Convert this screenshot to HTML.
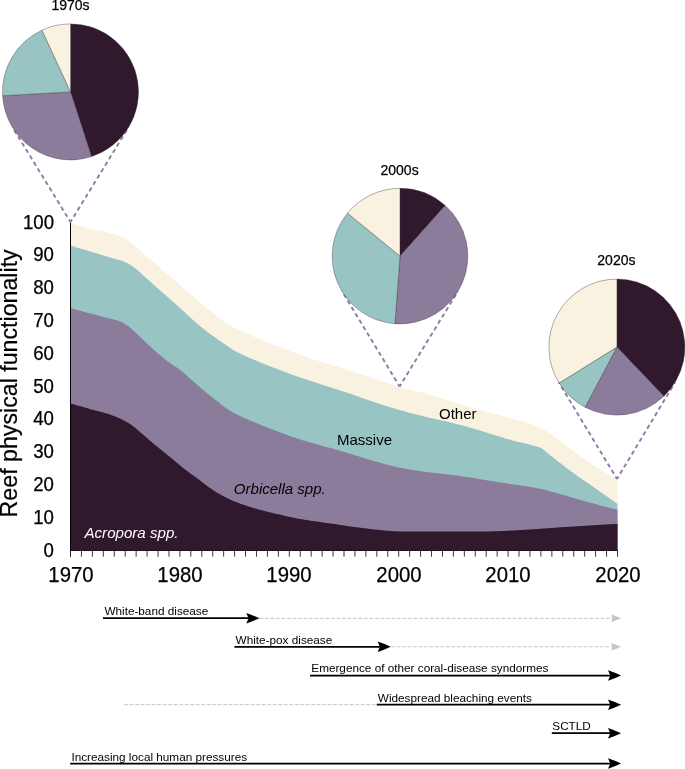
<!DOCTYPE html>
<html><head><meta charset="utf-8"><title>Reef physical functionality</title>
<style>
html,body{margin:0;padding:0;background:#fff;}
body{width:685px;height:769px;position:relative;overflow:hidden;font-family:"Liberation Sans",sans-serif;color:#000;}
.t{position:absolute;white-space:nowrap;}
.ax{-webkit-text-stroke:0.25px #000;}
.t.c{width:200px;text-align:center;}
.t.r{width:100px;text-align:right;}
.yt{-webkit-text-stroke:0.2px #000;position:absolute;left:0;top:0;white-space:nowrap;font-size:23.2px;line-height:26px;transform-origin:0 0;transform:translate(-3.9px,517.4px) rotate(-90deg);}
</style></head><body>
<svg width="685" height="769" viewBox="0 0 685 769" style="position:absolute;left:0;top:0">
<path d="M70.5 550.6 L70.5 222.80 L72.5 223.50 L74.5 224.19 L76.5 224.86 L78.5 225.51 L80.5 226.14 L82.5 226.74 L84.5 227.33 L86.5 227.88 L88.5 228.42 L90.5 228.92 L92.5 229.39 L94.5 229.82 L96.5 230.22 L98.5 230.61 L100.5 230.99 L102.5 231.37 L104.5 231.77 L106.5 232.19 L108.5 232.64 L110.5 233.13 L112.5 233.64 L114.5 234.18 L116.5 234.77 L118.5 235.44 L120.5 236.20 L122.5 237.17 L124.5 238.30 L126.5 239.51 L128.5 240.84 L130.5 242.28 L132.5 243.82 L134.5 245.40 L136.5 247.10 L138.5 248.89 L140.5 250.73 L142.5 252.56 L144.5 254.34 L146.5 256.09 L148.5 257.83 L150.5 259.57 L152.5 261.30 L154.5 263.03 L156.5 264.76 L158.5 266.49 L160.5 268.22 L162.5 269.94 L164.5 271.67 L166.5 273.39 L168.5 275.11 L170.5 276.83 L172.5 278.55 L174.5 280.26 L176.5 281.97 L178.5 283.68 L180.5 285.40 L182.5 287.11 L184.5 288.83 L186.5 290.55 L188.5 292.28 L190.5 294.02 L192.5 295.74 L194.5 297.46 L196.5 299.17 L198.5 300.88 L200.5 302.59 L202.5 304.29 L204.5 305.99 L206.5 307.68 L208.5 309.35 L210.5 310.99 L212.5 312.60 L214.5 314.20 L216.5 315.81 L218.5 317.43 L220.5 319.02 L222.5 320.56 L224.5 322.04 L226.5 323.43 L228.5 324.70 L230.5 325.84 L232.5 326.87 L234.5 327.82 L236.5 328.76 L238.5 329.71 L240.5 330.65 L242.5 331.58 L244.5 332.50 L246.5 333.41 L248.5 334.31 L250.5 335.19 L252.5 336.07 L254.5 336.93 L256.5 337.79 L258.5 338.63 L260.5 339.46 L262.5 340.28 L264.5 341.09 L266.5 341.89 L268.5 342.68 L270.5 343.46 L272.5 344.25 L274.5 345.03 L276.5 345.81 L278.5 346.58 L280.5 347.36 L282.5 348.14 L284.5 348.92 L286.5 349.69 L288.5 350.45 L290.5 351.21 L292.5 351.95 L294.5 352.69 L296.5 353.42 L298.5 354.14 L300.5 354.84 L302.5 355.54 L304.5 356.23 L306.5 356.91 L308.5 357.58 L310.5 358.25 L312.5 358.92 L314.5 359.58 L316.5 360.24 L318.5 360.89 L320.5 361.54 L322.5 362.18 L324.5 362.81 L326.5 363.45 L328.5 364.08 L330.5 364.70 L332.5 365.33 L334.5 365.96 L336.5 366.58 L338.5 367.20 L340.5 367.81 L342.5 368.43 L344.5 369.04 L346.5 369.65 L348.5 370.27 L350.5 370.89 L352.5 371.52 L354.5 372.16 L356.5 372.81 L358.5 373.46 L360.5 374.12 L362.5 374.78 L364.5 375.44 L366.5 376.11 L368.5 376.78 L370.5 377.44 L372.5 378.11 L374.5 378.76 L376.5 379.43 L378.5 380.11 L380.5 380.79 L382.5 381.48 L384.5 382.17 L386.5 382.85 L388.5 383.53 L390.5 384.19 L392.5 384.85 L394.5 385.48 L396.5 386.10 L398.5 386.69 L400.5 387.25 L402.5 387.78 L404.5 388.29 L406.5 388.79 L408.5 389.26 L410.5 389.73 L412.5 390.19 L414.5 390.65 L416.5 391.12 L418.5 391.60 L420.5 392.09 L422.5 392.60 L424.5 393.14 L426.5 393.69 L428.5 394.27 L430.5 394.86 L432.5 395.46 L434.5 396.07 L436.5 396.69 L438.5 397.31 L440.5 397.92 L442.5 398.54 L444.5 399.15 L446.5 399.77 L448.5 400.39 L450.5 401.01 L452.5 401.64 L454.5 402.27 L456.5 402.90 L458.5 403.53 L460.5 404.16 L462.5 404.78 L464.5 405.40 L466.5 406.01 L468.5 406.62 L470.5 407.21 L472.5 407.80 L474.5 408.38 L476.5 408.96 L478.5 409.53 L480.5 410.10 L482.5 410.66 L484.5 411.22 L486.5 411.77 L488.5 412.32 L490.5 412.86 L492.5 413.40 L494.5 413.93 L496.5 414.45 L498.5 414.96 L500.5 415.46 L502.5 415.97 L504.5 416.48 L506.5 417.00 L508.5 417.53 L510.5 418.06 L512.5 418.61 L514.5 419.14 L516.5 419.68 L518.5 420.21 L520.5 420.75 L522.5 421.31 L524.5 421.89 L526.5 422.50 L528.5 423.14 L530.5 423.82 L532.5 424.55 L534.5 425.33 L536.5 426.16 L538.5 427.04 L540.5 427.98 L542.5 428.98 L544.5 430.03 L546.5 431.16 L548.5 432.42 L550.5 433.78 L552.5 435.23 L554.5 436.72 L556.5 438.23 L558.5 439.75 L560.5 441.24 L562.5 442.70 L564.5 444.18 L566.5 445.68 L568.5 447.20 L570.5 448.72 L572.5 450.24 L574.5 451.75 L576.5 453.25 L578.5 454.71 L580.5 456.15 L582.5 457.55 L584.5 458.95 L586.5 460.33 L588.5 461.70 L590.5 463.06 L592.5 464.40 L594.5 465.72 L596.5 467.02 L598.5 468.30 L600.5 469.56 L602.5 470.80 L604.5 472.00 L606.5 473.19 L608.5 474.35 L610.5 475.49 L612.5 476.60 L614.5 477.70 L616.5 478.77 L617.5 479.30 L617.5 550.6 Z" fill="#faf2e1"/>
<path d="M70.5 550.6 L70.5 245.60 L72.5 246.19 L74.5 246.79 L76.5 247.38 L78.5 247.97 L80.5 248.57 L82.5 249.16 L84.5 249.76 L86.5 250.36 L88.5 250.95 L90.5 251.55 L92.5 252.15 L94.5 252.74 L96.5 253.34 L98.5 253.94 L100.5 254.54 L102.5 255.14 L104.5 255.74 L106.5 256.34 L108.5 256.95 L110.5 257.55 L112.5 258.12 L114.5 258.67 L116.5 259.21 L118.5 259.77 L120.5 260.37 L122.5 261.04 L124.5 261.80 L126.5 262.69 L128.5 263.77 L130.5 265.01 L132.5 266.35 L134.5 267.76 L136.5 269.32 L138.5 271.04 L140.5 272.84 L142.5 274.66 L144.5 276.44 L146.5 278.23 L148.5 280.04 L150.5 281.85 L152.5 283.66 L154.5 285.44 L156.5 287.21 L158.5 288.96 L160.5 290.70 L162.5 292.44 L164.5 294.17 L166.5 295.92 L168.5 297.67 L170.5 299.44 L172.5 301.23 L174.5 303.02 L176.5 304.81 L178.5 306.62 L180.5 308.43 L182.5 310.24 L184.5 312.06 L186.5 313.90 L188.5 315.78 L190.5 317.65 L192.5 319.51 L194.5 321.32 L196.5 323.07 L198.5 324.76 L200.5 326.40 L202.5 328.01 L204.5 329.59 L206.5 331.14 L208.5 332.66 L210.5 334.16 L212.5 335.63 L214.5 337.09 L216.5 338.51 L218.5 339.90 L220.5 341.27 L222.5 342.63 L224.5 343.97 L226.5 345.32 L228.5 346.66 L230.5 348.04 L232.5 349.43 L234.5 350.71 L236.5 351.82 L238.5 352.87 L240.5 353.86 L242.5 354.80 L244.5 355.71 L246.5 356.59 L248.5 357.44 L250.5 358.28 L252.5 359.12 L254.5 359.95 L256.5 360.79 L258.5 361.63 L260.5 362.47 L262.5 363.29 L264.5 364.10 L266.5 364.90 L268.5 365.70 L270.5 366.48 L272.5 367.26 L274.5 368.04 L276.5 368.81 L278.5 369.58 L280.5 370.34 L282.5 371.10 L284.5 371.85 L286.5 372.60 L288.5 373.34 L290.5 374.08 L292.5 374.80 L294.5 375.52 L296.5 376.23 L298.5 376.92 L300.5 377.60 L302.5 378.27 L304.5 378.94 L306.5 379.59 L308.5 380.24 L310.5 380.89 L312.5 381.54 L314.5 382.19 L316.5 382.84 L318.5 383.49 L320.5 384.14 L322.5 384.79 L324.5 385.43 L326.5 386.08 L328.5 386.72 L330.5 387.37 L332.5 388.01 L334.5 388.66 L336.5 389.31 L338.5 389.95 L340.5 390.59 L342.5 391.24 L344.5 391.88 L346.5 392.53 L348.5 393.18 L350.5 393.83 L352.5 394.50 L354.5 395.17 L356.5 395.86 L358.5 396.55 L360.5 397.26 L362.5 397.98 L364.5 398.69 L366.5 399.41 L368.5 400.12 L370.5 400.81 L372.5 401.50 L374.5 402.17 L376.5 402.82 L378.5 403.48 L380.5 404.13 L382.5 404.78 L384.5 405.42 L386.5 406.05 L388.5 406.68 L390.5 407.30 L392.5 407.91 L394.5 408.51 L396.5 409.10 L398.5 409.68 L400.5 410.26 L402.5 410.82 L404.5 411.37 L406.5 411.92 L408.5 412.45 L410.5 412.98 L412.5 413.51 L414.5 414.02 L416.5 414.53 L418.5 415.04 L420.5 415.54 L422.5 416.03 L424.5 416.52 L426.5 417.00 L428.5 417.47 L430.5 417.92 L432.5 418.37 L434.5 418.82 L436.5 419.27 L438.5 419.72 L440.5 420.18 L442.5 420.64 L444.5 421.12 L446.5 421.60 L448.5 422.09 L450.5 422.57 L452.5 423.06 L454.5 423.55 L456.5 424.05 L458.5 424.55 L460.5 425.06 L462.5 425.57 L464.5 426.09 L466.5 426.62 L468.5 427.17 L470.5 427.72 L472.5 428.28 L474.5 428.87 L476.5 429.47 L478.5 430.09 L480.5 430.71 L482.5 431.34 L484.5 431.98 L486.5 432.61 L488.5 433.23 L490.5 433.85 L492.5 434.46 L494.5 435.07 L496.5 435.69 L498.5 436.31 L500.5 436.92 L502.5 437.53 L504.5 438.14 L506.5 438.73 L508.5 439.30 L510.5 439.86 L512.5 440.40 L514.5 440.92 L516.5 441.41 L518.5 441.90 L520.5 442.37 L522.5 442.85 L524.5 443.33 L526.5 443.82 L528.5 444.33 L530.5 444.86 L532.5 445.39 L534.5 445.89 L536.5 446.41 L538.5 447.01 L540.5 447.78 L542.5 448.97 L544.5 450.62 L546.5 452.18 L548.5 453.78 L550.5 455.38 L552.5 456.98 L554.5 458.58 L556.5 460.17 L558.5 461.75 L560.5 463.31 L562.5 464.85 L564.5 466.38 L566.5 467.89 L568.5 469.40 L570.5 470.88 L572.5 472.35 L574.5 473.81 L576.5 475.23 L578.5 476.64 L580.5 478.03 L582.5 479.42 L584.5 480.80 L586.5 482.18 L588.5 483.57 L590.5 484.97 L592.5 486.36 L594.5 487.76 L596.5 489.15 L598.5 490.55 L600.5 491.95 L602.5 493.35 L604.5 494.75 L606.5 496.16 L608.5 497.56 L610.5 498.97 L612.5 500.37 L614.5 501.78 L616.5 503.19 L617.5 503.90 L617.5 550.6 Z" fill="#98c5c3"/>
<path d="M70.5 550.6 L70.5 308.00 L72.5 308.57 L74.5 309.13 L76.5 309.70 L78.5 310.26 L80.5 310.81 L82.5 311.36 L84.5 311.91 L86.5 312.46 L88.5 313.00 L90.5 313.53 L92.5 314.06 L94.5 314.58 L96.5 315.10 L98.5 315.61 L100.5 316.12 L102.5 316.63 L104.5 317.15 L106.5 317.67 L108.5 318.20 L110.5 318.73 L112.5 319.24 L114.5 319.74 L116.5 320.27 L118.5 320.87 L120.5 321.60 L122.5 322.54 L124.5 323.67 L126.5 324.92 L128.5 326.37 L130.5 327.98 L132.5 329.69 L134.5 331.44 L136.5 333.28 L138.5 335.21 L140.5 337.18 L142.5 339.15 L144.5 341.08 L146.5 342.99 L148.5 344.91 L150.5 346.81 L152.5 348.66 L154.5 350.44 L156.5 352.17 L158.5 353.88 L160.5 355.56 L162.5 357.21 L164.5 358.82 L166.5 360.38 L168.5 361.90 L170.5 363.36 L172.5 364.70 L174.5 365.98 L176.5 367.26 L178.5 368.63 L180.5 370.15 L182.5 371.79 L184.5 373.51 L186.5 375.30 L188.5 377.13 L190.5 378.97 L192.5 380.81 L194.5 382.62 L196.5 384.37 L198.5 386.07 L200.5 387.76 L202.5 389.45 L204.5 391.11 L206.5 392.77 L208.5 394.40 L210.5 396.02 L212.5 397.61 L214.5 399.18 L216.5 400.76 L218.5 402.33 L220.5 403.88 L222.5 405.40 L224.5 406.88 L226.5 408.30 L228.5 409.67 L230.5 410.97 L232.5 412.20 L234.5 413.33 L236.5 414.37 L238.5 415.36 L240.5 416.30 L242.5 417.21 L244.5 418.09 L246.5 418.95 L248.5 419.79 L250.5 420.62 L252.5 421.44 L254.5 422.26 L256.5 423.09 L258.5 423.93 L260.5 424.76 L262.5 425.58 L264.5 426.40 L266.5 427.21 L268.5 428.01 L270.5 428.80 L272.5 429.58 L274.5 430.35 L276.5 431.11 L278.5 431.86 L280.5 432.61 L282.5 433.35 L284.5 434.08 L286.5 434.80 L288.5 435.51 L290.5 436.21 L292.5 436.90 L294.5 437.58 L296.5 438.24 L298.5 438.88 L300.5 439.52 L302.5 440.14 L304.5 440.75 L306.5 441.35 L308.5 441.95 L310.5 442.53 L312.5 443.11 L314.5 443.69 L316.5 444.26 L318.5 444.82 L320.5 445.37 L322.5 445.91 L324.5 446.44 L326.5 446.96 L328.5 447.49 L330.5 448.03 L332.5 448.58 L334.5 449.14 L336.5 449.72 L338.5 450.31 L340.5 450.90 L342.5 451.51 L344.5 452.11 L346.5 452.72 L348.5 453.33 L350.5 453.94 L352.5 454.55 L354.5 455.15 L356.5 455.76 L358.5 456.37 L360.5 456.98 L362.5 457.60 L364.5 458.21 L366.5 458.81 L368.5 459.41 L370.5 460.00 L372.5 460.58 L374.5 461.14 L376.5 461.70 L378.5 462.26 L380.5 462.82 L382.5 463.38 L384.5 463.93 L386.5 464.47 L388.5 465.00 L390.5 465.51 L392.5 466.01 L394.5 466.49 L396.5 466.95 L398.5 467.38 L400.5 467.78 L402.5 468.16 L404.5 468.54 L406.5 468.90 L408.5 469.24 L410.5 469.58 L412.5 469.90 L414.5 470.22 L416.5 470.52 L418.5 470.82 L420.5 471.11 L422.5 471.39 L424.5 471.67 L426.5 471.93 L428.5 472.18 L430.5 472.42 L432.5 472.66 L434.5 472.89 L436.5 473.11 L438.5 473.34 L440.5 473.57 L442.5 473.81 L444.5 474.06 L446.5 474.32 L448.5 474.57 L450.5 474.82 L452.5 475.08 L454.5 475.34 L456.5 475.60 L458.5 475.87 L460.5 476.14 L462.5 476.41 L464.5 476.69 L466.5 476.97 L468.5 477.26 L470.5 477.56 L472.5 477.86 L474.5 478.18 L476.5 478.52 L478.5 478.86 L480.5 479.21 L482.5 479.56 L484.5 479.91 L486.5 480.25 L488.5 480.59 L490.5 480.92 L492.5 481.24 L494.5 481.55 L496.5 481.85 L498.5 482.15 L500.5 482.45 L502.5 482.74 L504.5 483.04 L506.5 483.33 L508.5 483.63 L510.5 483.93 L512.5 484.22 L514.5 484.51 L516.5 484.80 L518.5 485.08 L520.5 485.37 L522.5 485.66 L524.5 485.95 L526.5 486.26 L528.5 486.58 L530.5 486.91 L532.5 487.27 L534.5 487.64 L536.5 488.04 L538.5 488.45 L540.5 488.89 L542.5 489.34 L544.5 489.82 L546.5 490.33 L548.5 490.85 L550.5 491.38 L552.5 491.93 L554.5 492.48 L556.5 493.04 L558.5 493.60 L560.5 494.16 L562.5 494.72 L564.5 495.29 L566.5 495.87 L568.5 496.45 L570.5 497.04 L572.5 497.63 L574.5 498.22 L576.5 498.81 L578.5 499.39 L580.5 499.96 L582.5 500.52 L584.5 501.08 L586.5 501.64 L588.5 502.19 L590.5 502.74 L592.5 503.29 L594.5 503.83 L596.5 504.37 L598.5 504.91 L600.5 505.44 L602.5 505.97 L604.5 506.49 L606.5 507.01 L608.5 507.53 L610.5 508.04 L612.5 508.55 L614.5 509.05 L616.5 509.55 L617.5 509.80 L617.5 550.6 Z" fill="#8b7c9b"/>
<path d="M70.5 550.6 L70.5 403.40 L72.5 403.98 L74.5 404.56 L76.5 405.14 L78.5 405.71 L80.5 406.29 L82.5 406.86 L84.5 407.43 L86.5 408.01 L88.5 408.57 L90.5 409.14 L92.5 409.69 L94.5 410.23 L96.5 410.75 L98.5 411.27 L100.5 411.80 L102.5 412.34 L104.5 412.90 L106.5 413.49 L108.5 414.11 L110.5 414.77 L112.5 415.48 L114.5 416.25 L116.5 417.06 L118.5 417.92 L120.5 418.83 L122.5 419.79 L124.5 420.80 L126.5 421.89 L128.5 423.06 L130.5 424.33 L132.5 425.77 L134.5 427.36 L136.5 429.04 L138.5 430.74 L140.5 432.41 L142.5 434.10 L144.5 435.81 L146.5 437.55 L148.5 439.29 L150.5 441.02 L152.5 442.74 L154.5 444.42 L156.5 446.07 L158.5 447.70 L160.5 449.32 L162.5 450.93 L164.5 452.54 L166.5 454.15 L168.5 455.77 L170.5 457.41 L172.5 459.08 L174.5 460.76 L176.5 462.45 L178.5 464.13 L180.5 465.79 L182.5 467.41 L184.5 468.99 L186.5 470.51 L188.5 472.00 L190.5 473.47 L192.5 474.92 L194.5 476.37 L196.5 477.83 L198.5 479.32 L200.5 480.84 L202.5 482.38 L204.5 483.92 L206.5 485.43 L208.5 486.91 L210.5 488.33 L212.5 489.68 L214.5 490.95 L216.5 492.18 L218.5 493.38 L220.5 494.53 L222.5 495.65 L224.5 496.73 L226.5 497.77 L228.5 498.76 L230.5 499.70 L232.5 500.58 L234.5 501.40 L236.5 502.18 L238.5 502.93 L240.5 503.66 L242.5 504.38 L244.5 505.07 L246.5 505.75 L248.5 506.41 L250.5 507.05 L252.5 507.67 L254.5 508.27 L256.5 508.86 L258.5 509.42 L260.5 509.97 L262.5 510.50 L264.5 511.01 L266.5 511.51 L268.5 511.99 L270.5 512.47 L272.5 512.95 L274.5 513.42 L276.5 513.88 L278.5 514.35 L280.5 514.82 L282.5 515.29 L284.5 515.75 L286.5 516.21 L288.5 516.66 L290.5 517.09 L292.5 517.51 L294.5 517.92 L296.5 518.31 L298.5 518.67 L300.5 519.03 L302.5 519.36 L304.5 519.69 L306.5 520.01 L308.5 520.32 L310.5 520.63 L312.5 520.93 L314.5 521.23 L316.5 521.53 L318.5 521.82 L320.5 522.11 L322.5 522.39 L324.5 522.67 L326.5 522.95 L328.5 523.22 L330.5 523.50 L332.5 523.78 L334.5 524.07 L336.5 524.37 L338.5 524.68 L340.5 524.98 L342.5 525.30 L344.5 525.61 L346.5 525.92 L348.5 526.22 L350.5 526.51 L352.5 526.80 L354.5 527.07 L356.5 527.33 L358.5 527.60 L360.5 527.85 L362.5 528.11 L364.5 528.36 L366.5 528.60 L368.5 528.83 L370.5 529.05 L372.5 529.25 L374.5 529.45 L376.5 529.65 L378.5 529.85 L380.5 530.06 L382.5 530.27 L384.5 530.47 L386.5 530.66 L388.5 530.84 L390.5 531.00 L392.5 531.14 L394.5 531.25 L396.5 531.34 L398.5 531.39 L400.5 531.41 L402.5 531.42 L404.5 531.43 L406.5 531.44 L408.5 531.45 L410.5 531.46 L412.5 531.47 L414.5 531.48 L416.5 531.49 L418.5 531.50 L420.5 531.51 L422.5 531.52 L424.5 531.52 L426.5 531.53 L428.5 531.54 L430.5 531.54 L432.5 531.55 L434.5 531.55 L436.5 531.56 L438.5 531.56 L440.5 531.57 L442.5 531.57 L444.5 531.58 L446.5 531.58 L448.5 531.58 L450.5 531.59 L452.5 531.59 L454.5 531.59 L456.5 531.59 L458.5 531.60 L460.5 531.60 L462.5 531.60 L464.5 531.60 L466.5 531.60 L468.5 531.60 L470.5 531.60 L472.5 531.60 L474.5 531.59 L476.5 531.58 L478.5 531.56 L480.5 531.55 L482.5 531.52 L484.5 531.50 L486.5 531.47 L488.5 531.44 L490.5 531.41 L492.5 531.37 L494.5 531.32 L496.5 531.26 L498.5 531.18 L500.5 531.10 L502.5 531.01 L504.5 530.92 L506.5 530.82 L508.5 530.72 L510.5 530.62 L512.5 530.53 L514.5 530.42 L516.5 530.31 L518.5 530.19 L520.5 530.07 L522.5 529.95 L524.5 529.82 L526.5 529.69 L528.5 529.56 L530.5 529.43 L532.5 529.30 L534.5 529.17 L536.5 529.03 L538.5 528.89 L540.5 528.75 L542.5 528.60 L544.5 528.46 L546.5 528.31 L548.5 528.17 L550.5 528.03 L552.5 527.90 L554.5 527.76 L556.5 527.62 L558.5 527.49 L560.5 527.35 L562.5 527.22 L564.5 527.08 L566.5 526.95 L568.5 526.81 L570.5 526.68 L572.5 526.55 L574.5 526.42 L576.5 526.29 L578.5 526.16 L580.5 526.03 L582.5 525.91 L584.5 525.78 L586.5 525.65 L588.5 525.52 L590.5 525.39 L592.5 525.27 L594.5 525.14 L596.5 525.02 L598.5 524.90 L600.5 524.78 L602.5 524.67 L604.5 524.56 L606.5 524.46 L608.5 524.37 L610.5 524.28 L612.5 524.19 L614.5 524.11 L616.5 524.04 L617.5 524.00 L617.5 550.6 Z" fill="#30192c"/>
<rect x="70" y="222.6" width="1" height="334.1" fill="#000"/>
<rect x="70" y="550.15" width="548" height="0.85" fill="#0a0a0a"/>
<path d="M70.50 550.6V556.7M81.44 550.6V556.7M92.38 550.6V556.7M103.32 550.6V556.7M114.26 550.6V556.7M125.20 550.6V556.7M136.14 550.6V556.7M147.08 550.6V556.7M158.02 550.6V556.7M168.96 550.6V556.7M179.90 550.6V556.7M190.84 550.6V556.7M201.78 550.6V556.7M212.72 550.6V556.7M223.66 550.6V556.7M234.60 550.6V556.7M245.54 550.6V556.7M256.48 550.6V556.7M267.42 550.6V556.7M278.36 550.6V556.7M289.30 550.6V556.7M300.24 550.6V556.7M311.18 550.6V556.7M322.12 550.6V556.7M333.06 550.6V556.7M344.00 550.6V556.7M354.94 550.6V556.7M365.88 550.6V556.7M376.82 550.6V556.7M387.76 550.6V556.7M398.70 550.6V556.7M409.64 550.6V556.7M420.58 550.6V556.7M431.52 550.6V556.7M442.46 550.6V556.7M453.40 550.6V556.7M464.34 550.6V556.7M475.28 550.6V556.7M486.22 550.6V556.7M497.16 550.6V556.7M508.10 550.6V556.7M519.04 550.6V556.7M529.98 550.6V556.7M540.92 550.6V556.7M551.86 550.6V556.7M562.80 550.6V556.7M573.74 550.6V556.7M584.68 550.6V556.7M595.62 550.6V556.7M606.56 550.6V556.7M617.50 550.6V556.7" stroke="#222" stroke-width="0.9" fill="none"/>
<path d="M70.50 222.00 L128.47 127.44" stroke="#8d7da6" stroke-width="1.9" stroke-dasharray="4.3 3.2" stroke-dashoffset="1.4" fill="none"/><path d="M70.50 222.00 L12.53 127.44" stroke="#8d7da6" stroke-width="1.9" stroke-dasharray="4.3 3.2" stroke-dashoffset="1.4" fill="none"/>
<path d="M399.60 386.50 L457.81 291.53" stroke="#8d7da6" stroke-width="1.9" stroke-dasharray="4.3 3.2" stroke-dashoffset="1.4" fill="none"/><path d="M399.60 386.50 L341.98 291.17" stroke="#8d7da6" stroke-width="1.9" stroke-dasharray="4.3 3.2" stroke-dashoffset="1.4" fill="none"/>
<path d="M617.00 479.00 L675.19 382.11" stroke="#8d7da6" stroke-width="1.9" stroke-dasharray="4.3 3.2" stroke-dashoffset="1.4" fill="none"/><path d="M617.00 479.00 L558.66 382.20" stroke="#8d7da6" stroke-width="1.9" stroke-dasharray="4.3 3.2" stroke-dashoffset="1.4" fill="none"/>
<path d="M70.50 91.90 L70.50 23.90 A68.00 68.00 0 0 1 91.51 156.57 Z" fill="#30192c" stroke="#3a3038" stroke-width="0.4" stroke-linejoin="round"/>
<path d="M70.50 91.90 L91.51 156.57 A68.00 68.00 0 0 1 2.61 95.70 Z" fill="#8b7c9b" stroke="#3a3038" stroke-width="0.4" stroke-linejoin="round"/>
<path d="M70.50 91.90 L2.61 95.70 A68.00 68.00 0 0 1 41.98 30.17 Z" fill="#98c5c3" stroke="#3a3038" stroke-width="0.4" stroke-linejoin="round"/>
<path d="M70.50 91.90 L41.98 30.17 A68.00 68.00 0 0 1 70.50 23.90 Z" fill="#faf2e1" stroke="#3a3038" stroke-width="0.4" stroke-linejoin="round"/>
<path d="M400.00 256.10 L400.00 188.30 A67.80 67.80 0 0 1 445.19 205.56 Z" fill="#30192c" stroke="#3a3038" stroke-width="0.4" stroke-linejoin="round"/>
<path d="M400.00 256.10 L445.19 205.56 A67.80 67.80 0 0 1 394.92 323.71 Z" fill="#8b7c9b" stroke="#3a3038" stroke-width="0.4" stroke-linejoin="round"/>
<path d="M400.00 256.10 L394.92 323.71 A67.80 67.80 0 0 1 347.53 213.16 Z" fill="#98c5c3" stroke="#3a3038" stroke-width="0.4" stroke-linejoin="round"/>
<path d="M400.00 256.10 L347.53 213.16 A67.80 67.80 0 0 1 400.00 188.30 Z" fill="#faf2e1" stroke="#3a3038" stroke-width="0.4" stroke-linejoin="round"/>
<path d="M616.90 347.10 L616.90 279.10 A68.00 68.00 0 0 1 663.88 396.26 Z" fill="#30192c" stroke="#3a3038" stroke-width="0.4" stroke-linejoin="round"/>
<path d="M616.90 347.10 L663.88 396.26 A68.00 68.00 0 0 1 585.13 407.22 Z" fill="#8b7c9b" stroke="#3a3038" stroke-width="0.4" stroke-linejoin="round"/>
<path d="M616.90 347.10 L585.13 407.22 A68.00 68.00 0 0 1 559.17 383.03 Z" fill="#98c5c3" stroke="#3a3038" stroke-width="0.4" stroke-linejoin="round"/>
<path d="M616.90 347.10 L559.17 383.03 A68.00 68.00 0 0 1 616.90 279.10 Z" fill="#faf2e1" stroke="#3a3038" stroke-width="0.4" stroke-linejoin="round"/>
<path d="M259.4 618.3 H614.2" stroke="#c6c6c6" stroke-width="1.00" fill="none" stroke-dasharray="4 1.5"/><path d="M621.10 618.30 Q615.91 615.88 611.30 614.40 L612.28 618.30 L611.30 622.20 Q615.91 620.72 621.10 618.30 Z" fill="#c6c6c6"/>
<path d="M390.8 646.8 H614.2" stroke="#c6c6c6" stroke-width="1.00" fill="none" stroke-dasharray="4 1.5"/><path d="M621.10 646.80 Q615.91 644.38 611.30 642.90 L612.28 646.80 L611.30 650.70 Q615.91 649.22 621.10 646.80 Z" fill="#c6c6c6"/>
<path d="M124.2 704.7H376.7" stroke="#c6c6c6" stroke-width="1" stroke-dasharray="4 1.5" fill="none"/>
<path d="M103.0 618.2 H250.2" stroke="#000" stroke-width="1.75" fill="none"/><path d="M259.40 618.20 Q252.46 614.95 246.30 612.95 L248.53 618.20 L246.30 623.45 Q252.46 621.46 259.40 618.20 Z" fill="#000"/>
<path d="M234.5 646.8 H381.6" stroke="#000" stroke-width="1.75" fill="none"/><path d="M390.80 646.80 Q383.86 643.54 377.70 641.55 L379.93 646.80 L377.70 652.05 Q383.86 650.05 390.80 646.80 Z" fill="#000"/>
<path d="M310.0 675.5 H611.9" stroke="#000" stroke-width="1.75" fill="none"/><path d="M621.10 675.50 Q614.16 672.25 608.00 670.25 L610.23 675.50 L608.00 680.75 Q614.16 678.75 621.10 675.50 Z" fill="#000"/>
<path d="M376.7 704.7 H611.9" stroke="#000" stroke-width="1.75" fill="none"/><path d="M621.10 704.70 Q614.16 701.45 608.00 699.45 L610.23 704.70 L608.00 709.95 Q614.16 707.96 621.10 704.70 Z" fill="#000"/>
<path d="M551.8 733.2 H611.9" stroke="#000" stroke-width="1.75" fill="none"/><path d="M621.10 733.20 Q614.16 729.95 608.00 727.95 L610.23 733.20 L608.00 738.45 Q614.16 736.46 621.10 733.20 Z" fill="#000"/>
<path d="M70.2 763.6 H611.9" stroke="#000" stroke-width="1.75" fill="none"/><path d="M621.10 763.60 Q614.16 760.35 608.00 758.35 L610.23 763.60 L608.00 768.85 Q614.16 766.86 621.10 763.60 Z" fill="#000"/>
</svg>
<div id="tx" style="position:absolute;left:0;top:0;width:685px;height:769px;will-change:transform;">
<div class="yt">Reef physical functionality</div>
<div class="t r ax" style="left:-45.6px;top:539.6px;font-size:19.30px;line-height:22.20px;transform:scaleX(0.967);transform-origin:100% 50%;">0</div>
<div class="t r ax" style="left:-45.6px;top:506.8px;font-size:19.30px;line-height:22.20px;transform:scaleX(0.967);transform-origin:100% 50%;">10</div>
<div class="t r ax" style="left:-45.6px;top:474.0px;font-size:19.30px;line-height:22.20px;transform:scaleX(0.967);transform-origin:100% 50%;">20</div>
<div class="t r ax" style="left:-45.6px;top:441.2px;font-size:19.30px;line-height:22.20px;transform:scaleX(0.967);transform-origin:100% 50%;">30</div>
<div class="t r ax" style="left:-45.6px;top:408.4px;font-size:19.30px;line-height:22.20px;transform:scaleX(0.967);transform-origin:100% 50%;">40</div>
<div class="t r ax" style="left:-45.6px;top:375.6px;font-size:19.30px;line-height:22.20px;transform:scaleX(0.967);transform-origin:100% 50%;">50</div>
<div class="t r ax" style="left:-45.6px;top:342.8px;font-size:19.30px;line-height:22.20px;transform:scaleX(0.967);transform-origin:100% 50%;">60</div>
<div class="t r ax" style="left:-45.6px;top:310.0px;font-size:19.30px;line-height:22.20px;transform:scaleX(0.967);transform-origin:100% 50%;">70</div>
<div class="t r ax" style="left:-45.6px;top:277.2px;font-size:19.30px;line-height:22.20px;transform:scaleX(0.967);transform-origin:100% 50%;">80</div>
<div class="t r ax" style="left:-45.6px;top:244.4px;font-size:19.30px;line-height:22.20px;transform:scaleX(0.967);transform-origin:100% 50%;">90</div>
<div class="t r ax" style="left:-45.6px;top:211.6px;font-size:19.30px;line-height:22.20px;transform:scaleX(0.967);transform-origin:100% 50%;">100</div>
<div class="t c ax" style="left:-29.4px;top:562.7px;font-size:21.30px;line-height:24.49px;transform:scaleX(0.955);transform-origin:50% 50%;">1970</div>
<div class="t c ax" style="left:80.0px;top:562.7px;font-size:21.30px;line-height:24.49px;transform:scaleX(0.955);transform-origin:50% 50%;">1980</div>
<div class="t c ax" style="left:189.4px;top:562.7px;font-size:21.30px;line-height:24.49px;transform:scaleX(0.955);transform-origin:50% 50%;">1990</div>
<div class="t c ax" style="left:298.8px;top:562.7px;font-size:21.30px;line-height:24.49px;transform:scaleX(0.955);transform-origin:50% 50%;">2000</div>
<div class="t c ax" style="left:408.2px;top:562.7px;font-size:21.30px;line-height:24.49px;transform:scaleX(0.955);transform-origin:50% 50%;">2010</div>
<div class="t c ax" style="left:517.6px;top:562.7px;font-size:21.30px;line-height:24.49px;transform:scaleX(0.955);transform-origin:50% 50%;">2020</div>
<div class="t c ax" style="left:-29.5px;top:-3.1px;font-size:14.00px;line-height:16.10px;">1970s</div>
<div class="t c ax" style="left:299.6px;top:161.9px;font-size:14.00px;line-height:16.10px;">2000s</div>
<div class="t c ax" style="left:516.4px;top:252.3px;font-size:14.00px;line-height:16.10px;">2020s</div>
<div class="t" style="left:84.5px;top:523.7px;font-size:15.10px;line-height:17.36px;font-style:italic;color:#fff;">Acropora spp.</div>
<div class="t" style="left:233.8px;top:480.4px;font-size:15.05px;line-height:17.31px;font-style:italic;">Orbicella spp.</div>
<div class="t" style="left:337.0px;top:430.8px;font-size:15.00px;line-height:17.25px;">Massive</div>
<div class="t" style="left:439.0px;top:404.8px;font-size:15.00px;line-height:17.25px;">Other</div>
<div class="t" style="left:104.4px;top:604.0px;font-size:11.75px;line-height:13.51px;">White-band disease</div>
<div class="t" style="left:235.6px;top:632.8px;font-size:11.75px;line-height:13.51px;">White-pox disease</div>
<div class="t" style="left:311.3px;top:661.4px;font-size:11.75px;line-height:13.51px;">Emergence of other coral-disease syndormes</div>
<div class="t" style="left:377.8px;top:690.7px;font-size:11.75px;line-height:13.51px;">Widespread bleaching events</div>
<div class="t" style="left:552.3px;top:719.2px;font-size:11.75px;line-height:13.51px;">SCTLD</div>
<div class="t" style="left:71.4px;top:749.8px;font-size:11.75px;line-height:13.51px;">Increasing local human pressures</div>
</div>
</body></html>
